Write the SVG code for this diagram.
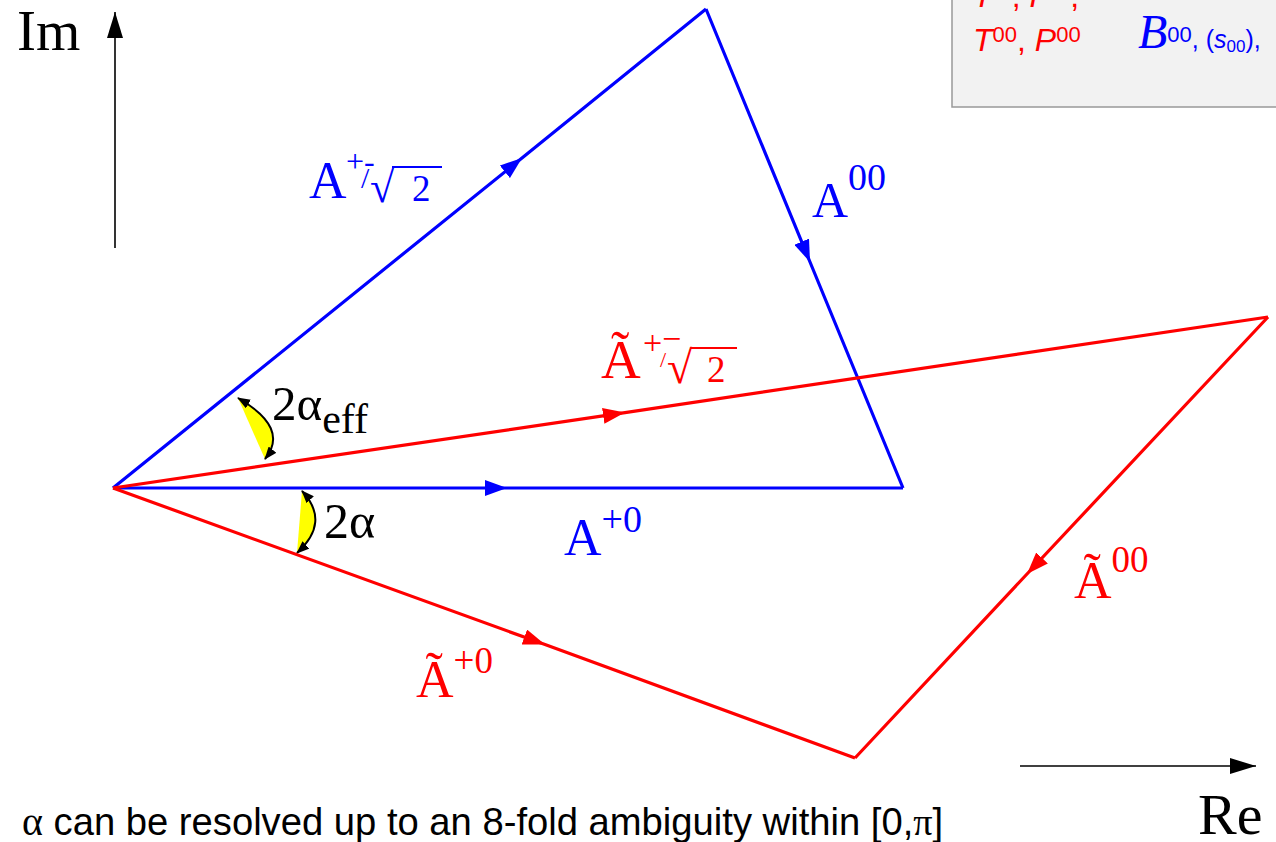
<svg xmlns="http://www.w3.org/2000/svg" width="1276" height="842" viewBox="0 0 1276 842">
<style>
.serif{font-family:"Liberation Serif","Times New Roman",serif}
.sans{font-family:"Liberation Sans",Arial,sans-serif}
.blue{fill:#0000ff}
.red{fill:#ff0000}
.blk{fill:#000}
.bl{stroke:#0000ff;stroke-width:3.2;fill:none}
.rl{stroke:#ff0000;stroke-width:3.2;fill:none}
.ax{stroke:#000;stroke-width:1.6;fill:none}
</style>
<defs>
<marker id="ab" markerUnits="userSpaceOnUse" markerWidth="24" markerHeight="16" refX="22" refY="8" orient="auto"><path d="M0,0 L22,8 L0,16 z" fill="#0000ff"/></marker>
<marker id="ar" markerUnits="userSpaceOnUse" markerWidth="24" markerHeight="16" refX="22" refY="8" orient="auto"><path d="M0,0 L22,8 L0,16 z" fill="#ff0000"/></marker>
<marker id="ak" markerUnits="userSpaceOnUse" markerWidth="28" markerHeight="16" refX="26" refY="8" orient="auto"><path d="M0,0 L26,8 L0,16 z" fill="#000"/></marker>
<marker id="as" markerUnits="userSpaceOnUse" markerWidth="14" markerHeight="10" refX="12" refY="5" orient="auto-start-reverse"><path d="M0,0 L13,5 L0,10 z" fill="#000"/></marker>
</defs>

<g id="legend">
<rect x="952" y="-5" width="330" height="112" fill="#f2f2f2" stroke="#999" stroke-width="1.5"/>
<text class="sans red" x="973" y="7" font-size="32" font-style="italic">T<tspan font-size="21" font-style="normal" dy="-10">+-</tspan><tspan dy="10" font-style="normal">, </tspan>P<tspan font-size="21" font-style="normal" dy="-10">+-</tspan><tspan dy="10" font-style="normal">,</tspan></text>
<text class="sans red" x="973" y="51" font-size="32" font-style="italic">T<tspan font-size="22" font-style="normal" dy="-9">00</tspan><tspan dy="9" font-style="normal">, </tspan>P<tspan font-size="22" font-style="normal" dy="-9">00</tspan></text>
<text class="blue" x="1138" y="48"><tspan class="serif" font-size="48" font-style="italic">B</tspan><tspan class="sans" font-size="22" dy="-6">00</tspan><tspan class="sans" font-size="25" dy="6">, (</tspan><tspan class="sans" font-size="25" font-style="italic">s</tspan><tspan class="sans" font-size="17" dy="4">00</tspan><tspan class="sans" font-size="25" dy="-4">),</tspan></text>
</g>

<g id="axes">
<line class="ax" x1="115" y1="248" x2="115" y2="12" marker-end="url(#ak)"/>
<line class="ax" x1="1020" y1="766" x2="1256" y2="766" marker-end="url(#ak)"/>
<text class="serif blk" x="17" y="50" font-size="57">Im</text>
<text class="serif blk" x="1198" y="834" font-size="58">Re</text>
</g>

<g id="angles">
<path d="M238 398 Q290 428 265 459 Z" fill="#ffff00"/>
<path d="M238 398 Q290 428 265 459" fill="none" stroke="#000" stroke-width="2" marker-start="url(#as)" marker-end="url(#as)"/>
<path d="M302 491 Q331 522 297 553 Z" fill="#ffff00"/>
<path d="M302 491 Q331 522 297 553" fill="none" stroke="#000" stroke-width="2" marker-start="url(#as)" marker-end="url(#as)"/>
</g>

<g id="connectors">
<path class="bl" d="M113 488 L522 158 L706 9"  marker-mid="url(#ab)"/>
<path class="bl" d="M706 9 L810 262 L903 488" marker-mid="url(#ab)"/>
<path class="bl" d="M113 488 L507 488 L903 488" marker-mid="url(#ab)"/>
<path class="rl" d="M113 488 L625 412.6 L1268 317" marker-mid="url(#ar)"/>
<path class="rl" d="M1268 317 L1027 574 L855 758" marker-mid="url(#ar)"/>
<path class="rl" d="M113 488 L545 644.6 L855 758" marker-mid="url(#ar)"/>
</g>

<g id="label-Apm">
<text class="serif blue" x="309" y="198" font-size="52">A</text>
<text class="serif blue" x="346" y="172" font-size="32">+-</text>
<text class="serif blue" x="361" y="188" font-size="30">/</text>
<text class="serif blue" x="370" y="202" font-size="44">√</text>
<line x1="392" y1="167" x2="442" y2="167" stroke="#0000ff" stroke-width="2"/>
<text class="serif blue" x="412" y="201" font-size="37">2</text>
</g>

<g id="label-A00">
<text class="serif blue" x="812" y="217" font-size="50">A<tspan font-size="38" dy="-27">00</tspan></text>
</g>

<g id="label-A0">
<text class="serif blue" x="564" y="555" font-size="52">A<tspan font-size="38" dy="-23">+0</tspan></text>
</g>

<g id="label-tApm">
<text class="serif red" x="601" y="378" font-size="55">Ã</text>
<text class="serif red" x="643" y="354" font-size="34">+</text>
<text class="serif red" x="662" y="350" font-size="34">−</text>
<text class="serif red" x="660" y="367" font-size="22">/</text>
<text class="serif red" x="667" y="383" font-size="46">√</text>
<line x1="691" y1="348" x2="737" y2="348" stroke="#ff0000" stroke-width="2"/>
<text class="serif red" x="707" y="382" font-size="37">2</text>
</g>

<g id="label-tA0">
<text class="serif red" x="416" y="697" font-size="52">Ã<tspan font-size="37" dy="-24">+0</tspan></text>
</g>

<g id="label-tA00">
<text class="serif red" x="1074" y="598" font-size="52">Ã<tspan font-size="37" dy="-26">00</tspan></text>
</g>

<g id="label-angles">
<text class="serif blk" x="272" y="420" font-size="49">2α<tspan font-size="42" dy="13">eff</tspan></text>
<text class="serif blk" x="324" y="538" font-size="50">2α</text>
</g>

<g id="caption">
<text class="sans blk" x="22" y="835" font-size="38.2"><tspan class="serif" font-size="40">α</tspan> can be resolved up to an 8-fold ambiguity within [0,<tspan class="serif">π</tspan>]</text>
</g>
</svg>
